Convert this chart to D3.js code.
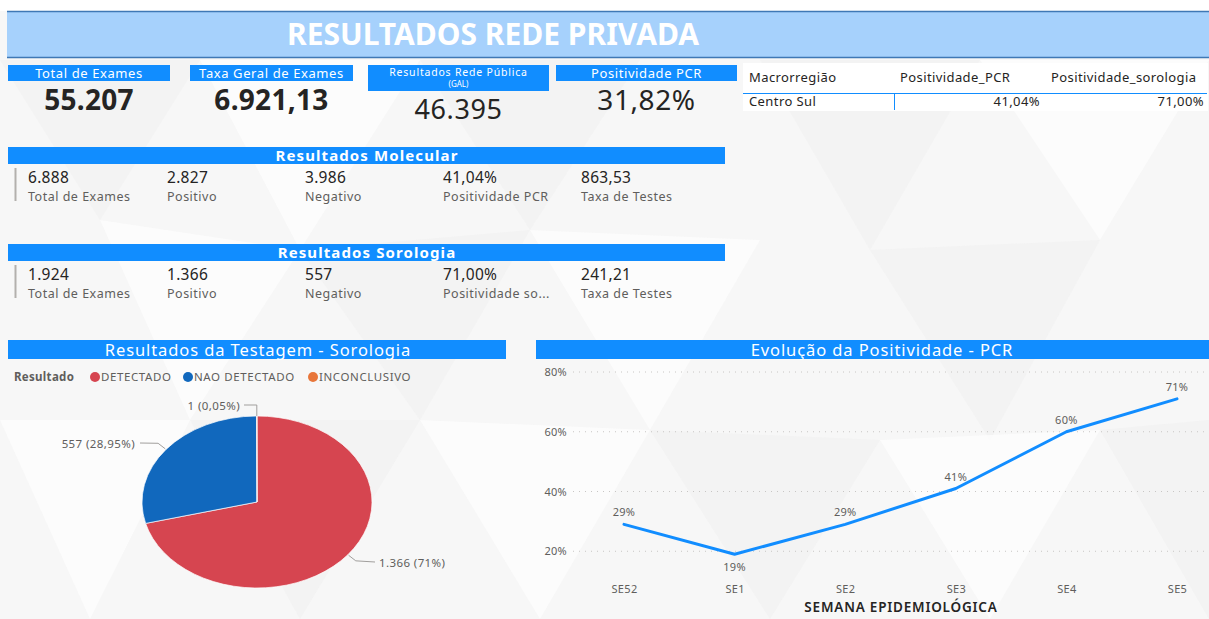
<!DOCTYPE html>
<html>
<head>
<meta charset="utf-8">
<script src="https://cdn.jsdelivr.net/npm/d3@7"></script>
<style>
  html, body { margin: 0; padding: 0; background: #ffffff; }
  svg { display: block; }
</style>
</head>
<body>
<svg id="dash" width="1209" height="619"></svg>
<script>
// ---- Indicadores gerais ----
const kpiTitles = ["Total de Exames", "Taxa Geral de Exames", "Resultados Rede Pública", "Positividade PCR"];
const kpiValues = ["55.207", "6.921,13", "46.395", "31,82%"];

// ---- Tabela por macrorregião ----
const tableHeaders = ["Macrorregião", "Positividade_PCR", "Positividade_sorologia"];
const tableRow = ["Centro Sul", "41,04%", "71,00%"];

// ---- Resultados Molecular / Sorologia ----
const cardLabelsMolecular = ["Total de Exames", "Positivo", "Negativo", "Positividade PCR", "Taxa de Testes"];
const cardValuesMolecular = ["6.888", "2.827", "3.986", "41,04%", "863,53"];
const cardLabelsSorologia = ["Total de Exames", "Positivo", "Negativo", "Positividade so...", "Taxa de Testes"];
const cardValuesSorologia = ["1.924", "1.366", "557", "71,00%", "241,21"];

// ---- Pizza: resultados da testagem (sorologia) ----
const pieCategories = ["DETECTADO", "NAO DETECTADO", "INCONCLUSIVO"];
const pieValues = [1366, 557, 1];
const pieLabels = ["1.366 (71%)", "557 (28,95%)", "1 (0,05%)"];
const pieColors = ["#d64550", "#1168bd", "#e8763a"];

// ---- Linha: evolução da positividade PCR ----
const weeks = ["SE52", "SE1", "SE2", "SE3", "SE4", "SE5"];
const positivity = [29, 19, 29, 41, 60, 71];
const yTicks = [20, 40, 60, 80];

const FONT = "'Noto Sans', 'Open Sans', sans-serif";
const BLUE = "#118dff";
const DARK = "#252423";
const GREY = "#605e5c";
const svg = d3.select("#dash");

// ---- Fundo com padrão geométrico suave ----
svg.append("rect").attr("width", 1209).attr("height", 619).attr("fill", "#f7f7f7");
const tri = [
  [[0,60],[200,60],[100,220]], [[200,60],[420,60],[300,250]], [[420,60],[640,60],[530,230]],
  [[100,220],[300,250],[190,420]], [[300,250],[530,230],[420,420]], [[530,230],[760,240],[650,430]],
  [[760,60],[980,60],[870,250]], [[980,60],[1209,60],[1100,240]], [[870,250],[1100,240],[990,440]],
  [[0,420],[190,420],[90,619]], [[190,420],[420,420],[300,619]], [[420,420],[650,430],[540,619]],
  [[650,430],[880,440],[770,619]], [[880,440],[1100,430],[990,619]], [[1100,430],[1209,420],[1209,619]]
];
svg.append("g").selectAll("path").data(tri).join("path")
  .attr("d", d => "M" + d.join("L") + "Z")
  .attr("fill", (d, i) => i % 2 ? "#fdfdfd" : "#f1f1f1")
  .attr("opacity", 0.7);

// ---- Faixa de título ----
svg.append("rect").attr("x", 0).attr("y", 0).attr("width", 1209).attr("height", 11).attr("fill", "#ffffff");
svg.append("rect").attr("x", 7).attr("y", 11).attr("width", 1202).attr("height", 47).attr("fill", "#a6d1fc");
svg.append("line").attr("x1", 7).attr("x2", 1209).attr("y1", 11.5).attr("y2", 11.5).attr("stroke", "#3f78b5").attr("stroke-width", 1.5);
svg.append("line").attr("x1", 7).attr("x2", 1209).attr("y1", 57.5).attr("y2", 57.5).attr("stroke", "#3f78b5").attr("stroke-width", 1.5);
svg.append("text").attr("x", 493).attr("y", 45).attr("text-anchor", "middle")
  .attr("font-family", FONT).attr("font-weight", 700).attr("font-size", 30).attr("fill", "#ffffff")
  .text("RESULTADOS REDE PRIVADA");

// ---- Cartões de indicadores ----
const kpiBoxes = [
  { x: 8, w: 162 }, { x: 190, w: 163 }, { x: 368, w: 181 }, { x: 556, w: 181 }
];
kpiBoxes.forEach((b, i) => {
  const g = svg.append("g");
  const tall = i === 2;
  g.append("rect").attr("x", b.x).attr("y", 65).attr("width", b.w).attr("height", tall ? 26 : 16).attr("fill", BLUE);
  if (tall) {
    g.append("text").attr("x", b.x + b.w / 2).attr("y", 75.5).attr("text-anchor", "middle")
      .attr("font-family", FONT).attr("font-size", 10.5).attr("letter-spacing", 0.8).attr("fill", "#fff").text(kpiTitles[i]);
    g.append("text").attr("x", b.x + b.w / 2).attr("y", 86.5).attr("text-anchor", "middle")
      .attr("font-family", FONT).attr("font-size", 8).attr("fill", "#fff").text("(GAL)");
  } else {
    g.append("text").attr("x", b.x + b.w / 2).attr("y", 78).attr("text-anchor", "middle")
      .attr("font-family", FONT).attr("font-size", 13).attr("letter-spacing", 0.6).attr("fill", "#fff").text(kpiTitles[i]);
  }
  const bold = i < 2;
  g.append("text").attr("x", b.x + b.w / 2).attr("y", tall ? 118.5 : 110)
    .attr("text-anchor", "middle").attr("font-family", FONT)
    .attr("font-weight", bold ? 700 : 400).attr("font-size", tall ? 27 : 28)
    .attr("letter-spacing", bold ? 0.3 : 0.6)
    .attr("fill", DARK).text(kpiValues[i]);
});

// ---- Tabela ----
const tg = svg.append("g");
tg.append("rect").attr("x", 743).attr("y", 63).attr("width", 465).attr("height", 48).attr("fill", "#ffffff");
const colX = [749, 900, 1051];
tableHeaders.forEach((h, i) => {
  tg.append("text").attr("x", colX[i]).attr("y", 82).attr("font-family", FONT).attr("font-size", 13)
    .attr("letter-spacing", 0.4).attr("fill", DARK).text(h);
});
tg.append("line").attr("x1", 743).attr("x2", 1207).attr("y1", 93.5).attr("y2", 93.5).attr("stroke", BLUE).attr("stroke-width", 1);
tg.append("line").attr("x1", 894.5).attr("x2", 894.5).attr("y1", 94).attr("y2", 110).attr("stroke", BLUE).attr("stroke-width", 1);
tg.append("text").attr("x", 749).attr("y", 106).attr("font-family", FONT).attr("font-size", 13).attr("letter-spacing", 0.4).attr("fill", DARK).text(tableRow[0]);
tg.append("text").attr("x", 1040).attr("y", 106).attr("text-anchor", "end").attr("font-family", FONT).attr("font-size", 13).attr("letter-spacing", 0.4).attr("fill", DARK).text(tableRow[1]);
tg.append("text").attr("x", 1204).attr("y", 106).attr("text-anchor", "end").attr("font-family", FONT).attr("font-size", 13).attr("letter-spacing", 0.4).attr("fill", DARK).text(tableRow[2]);

// ---- Blocos Molecular / Sorologia ----
function multiCard(y0, title, values, labels) {
  const g = svg.append("g");
  g.append("rect").attr("x", 8).attr("y", y0).attr("width", 717).attr("height", 17).attr("fill", BLUE);
  g.append("text").attr("x", 367).attr("y", y0 + 14).attr("text-anchor", "middle")
    .attr("font-family", FONT).attr("font-weight", 700).attr("font-size", 15)
    .attr("letter-spacing", 1.1).attr("fill", "#fff").text(title);
  g.append("line").attr("x1", 15.5).attr("x2", 15.5).attr("y1", y0 + 21).attr("y2", y0 + 54)
    .attr("stroke", "#b3b0ad").attr("stroke-width", 2);
  const cx = [28, 167, 305, 443, 581];
  values.forEach((v, i) => {
    g.append("text").attr("x", cx[i]).attr("y", y0 + 36).attr("font-family", FONT).attr("font-size", 15.5)
      .attr("letter-spacing", 0.3).attr("fill", DARK).text(v);
    g.append("text").attr("x", cx[i]).attr("y", y0 + 54).attr("font-family", FONT).attr("font-size", 12.5)
      .attr("letter-spacing", 0.5).attr("fill", GREY).text(labels[i]);
  });
}
multiCard(147, "Resultados Molecular", cardValuesMolecular, cardLabelsMolecular);
multiCard(244, "Resultados Sorologia", cardValuesSorologia, cardLabelsSorologia);

// ---- Pizza ----
const pg = svg.append("g");
pg.append("rect").attr("x", 8).attr("y", 340).attr("width", 498).attr("height", 19).attr("fill", BLUE);
pg.append("text").attr("x", 258).attr("y", 356).attr("text-anchor", "middle")
  .attr("font-family", FONT).attr("font-size", 16.5).attr("letter-spacing", 0.9)
  .attr("fill", "#fff").text("Resultados da Testagem - Sorologia");

// legenda
pg.append("text").attr("x", 14).attr("y", 381).attr("font-family", FONT).attr("font-weight", 700)
  .attr("font-size", 11.5).attr("letter-spacing", 0.3).attr("fill", GREY).text("Resultado");
const legX = [95, 188, 313];
pieCategories.forEach((c, i) => {
  pg.append("circle").attr("cx", legX[i]).attr("cy", 377).attr("r", 5).attr("fill", pieColors[i]);
  pg.append("text").attr("x", legX[i] + 6).attr("y", 381).attr("font-family", FONT)
    .attr("font-size", 11.5).attr("letter-spacing", 0.6).attr("fill", GREY).text(c);
});

const pcx = 257, pcy = 502, ry = 86, rx = 115;
const pie = d3.pie().sort(null).value(d => d)(pieValues);
const arc = d3.arc().innerRadius(0).outerRadius(ry);
const pieG = pg.append("g").attr("transform", `translate(${pcx},${pcy}) scale(${rx / ry},1)`);
pieG.selectAll("path").data(pie).join("path")
  .attr("d", arc).attr("fill", (d, i) => pieColors[i])
  .attr("stroke", "#ffffff").attr("stroke-width", 0.6);

// rótulos com linhas de chamada
function edgePoint(angle, extra) {
  return [pcx + Math.sin(angle) * (rx + extra), pcy - Math.cos(angle) * (ry + extra)];
}
const labelLayout = [
  { side: "right", tx: 379, ty: 563 },
  { side: "left", tx: 135, ty: 444 },
  { side: "left", tx: 240, ty: 406 }
];
pie.forEach((d, i) => {
  const mid = (d.startAngle + d.endAngle) / 2;
  const L = labelLayout[i];
  let pts;
  if (i === 2) {
    const p0 = edgePoint(mid, 0);
    pts = [[p0[0], p0[1]], [p0[0], L.ty - 1], [L.tx + 4, L.ty - 1]];
  } else {
    const p0 = edgePoint(mid, 1);
    const p1 = edgePoint(mid, 10);
    const endX = L.side === "right" ? L.tx - 4 : L.tx + 5;
    pts = [p0, p1, [endX, L.ty - 1]];
  }
  pg.append("path").attr("d", d3.line()(pts)).attr("fill", "none")
    .attr("stroke", "#a19f9d").attr("stroke-width", 1);
  pg.append("text").attr("x", L.tx).attr("y", L.ty + 3.5)
    .attr("text-anchor", L.side === "right" ? "start" : "end")
    .attr("font-family", FONT).attr("font-size", 11.5).attr("letter-spacing", 0.4)
    .attr("fill", GREY).text(pieLabels[i]);
});

// ---- Linha ----
const lg = svg.append("g");
lg.append("rect").attr("x", 536).attr("y", 340).attr("width", 673).attr("height", 19).attr("fill", BLUE);
lg.append("text").attr("x", 882).attr("y", 356).attr("text-anchor", "middle")
  .attr("font-family", FONT).attr("font-size", 16.5).attr("letter-spacing", 0.9)
  .attr("fill", "#fff").text("Evolução da Positividade - PCR");

const x = d3.scalePoint().domain(weeks).range([624, 1177]);
const y = d3.scaleLinear().domain([0, 80]).range([611, 372]);

const grid = lg.append("g");
grid.selectAll("line").data(yTicks).join("line")
  .attr("x1", 573).attr("x2", 1209)
  .attr("y1", d => y(d)).attr("y2", d => y(d))
  .attr("stroke", "#c8c6c4").attr("stroke-width", 1).attr("stroke-dasharray", "1,5");

const yAxis = lg.append("g").attr("transform", "translate(567,0)")
  .call(d3.axisLeft(y).tickValues(yTicks).tickFormat(d => d + "%").tickSize(0).tickPadding(0));
yAxis.select(".domain").remove();
yAxis.selectAll("text").attr("font-family", FONT).attr("font-size", 11).attr("letter-spacing", 0.3).attr("fill", GREY);

const xAxis = lg.append("g").attr("transform", "translate(0,585)")
  .call(d3.axisBottom(x).tickSize(0).tickPadding(0));
xAxis.select(".domain").remove();
xAxis.selectAll("text").attr("font-family", FONT).attr("font-size", 11).attr("letter-spacing", 0.3).attr("fill", GREY);

lg.append("text").attr("x", 901).attr("y", 612).attr("text-anchor", "middle")
  .attr("font-family", FONT).attr("font-weight", 600).attr("font-size", 13.5).attr("fill", DARK)
  .attr("letter-spacing", 0.8).text("SEMANA EPIDEMIOLÓGICA");

lg.append("path").datum(positivity)
  .attr("d", d3.line().x((d, i) => x(weeks[i])).y(d => y(d)))
  .attr("fill", "none").attr("stroke", BLUE).attr("stroke-width", 3)
  .attr("stroke-linejoin", "round").attr("stroke-linecap", "round");

lg.selectAll("text.dl").data(positivity).join("text").attr("class", "dl")
  .attr("x", (d, i) => x(weeks[i]))
  .attr("y", (d, i) => i === 1 ? y(d) + 17 : y(d) - 8)
  .attr("text-anchor", "middle").attr("font-family", FONT).attr("font-size", 11)
  .attr("letter-spacing", 0.3).attr("fill", GREY).text(d => d + "%");
</script>
</body>
</html>
